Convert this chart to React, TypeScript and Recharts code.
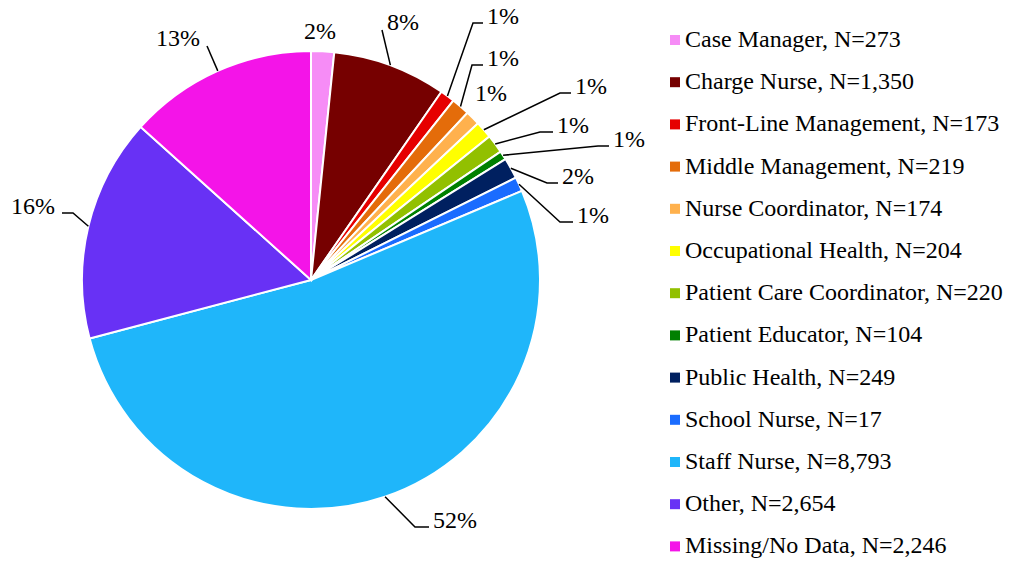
import React from 'react';
import { PieChart, Pie, Cell, Legend } from 'recharts';

const categories = [
  'Case Manager',
  'Charge Nurse',
  'Front-Line Management',
  'Middle Management',
  'Nurse Coordinator',
  'Occupational Health',
  'Patient Care Coordinator',
  'Patient Educator',
  'Public Health',
  'School Nurse',
  'Staff Nurse',
  'Other',
  'Missing/No Data',
];

// N shown in the legend
const counts = [273, 1350, 173, 219, 174, 204, 220, 104, 249, 17, 8793, 2654, 2246];

// slice sizes
const sliceValues = [273, 1350, 173, 219, 174, 204, 220, 104, 249, 170, 8793, 2654, 2246];

// percentage labels as printed on the chart
const percentLabels = ['2%', '8%', '1%', '1%', '1%', '1%', '1%', '1%', '2%', '1%', '52%', '16%', '13%'];

const colors = [
  '#F68CF6',
  '#760000',
  '#E60000',
  '#E46C0A',
  '#FFB14D',
  '#FFFF00',
  '#92C000',
  '#008000',
  '#002060',
  '#1A6CFF',
  '#1FB6FA',
  '#6831F5',
  '#F414E8',
];

// label placement (layout only): text x / baseline y, anchor, leader elbow
type LabelPos = { x: number; y: number; anchor: 'start' | 'end'; elbow?: number; direct?: boolean };
const labelLayout: LabelPos[] = [
  { x: 304, y: 39, anchor: 'start' },
  { x: 387, y: 30, anchor: 'start', direct: true },
  { x: 487, y: 24, anchor: 'start', elbow: 473 },
  { x: 487, y: 66, anchor: 'start', elbow: 472 },
  { x: 475, y: 101, anchor: 'start' },
  { x: 575, y: 94, anchor: 'start', elbow: 560 },
  { x: 557, y: 133, anchor: 'start', elbow: 540 },
  { x: 613, y: 147, anchor: 'start', elbow: 598 },
  { x: 562, y: 184, anchor: 'start', elbow: 547 },
  { x: 577, y: 223, anchor: 'start', elbow: 560 },
  { x: 433, y: 528, anchor: 'start', elbow: 415 },
  { x: 55, y: 214, anchor: 'end', elbow: 73 },
  { x: 200, y: 46, anchor: 'end', direct: true },
];

const data = categories.map((name, i) => ({ name, value: sliceValues[i] }));

const FONT = 'Liberation Serif';
const textStyle: React.CSSProperties = { fontFamily: "'Liberation Serif'", fontSize: '24px' };
const W = 1009;
const H = 562;
const RAD = Math.PI / 180;

const renderLabel = (props: any) => {
  const { cx, cy, midAngle, outerRadius, index } = props;
  const lay = labelLayout[index];
  const ex = cx + outerRadius * Math.cos(-midAngle * RAD);
  const ey = cy + outerRadius * Math.sin(-midAngle * RAD);
  let points: string | null = null;
  const ly = lay.y - 1;
  if (lay.elbow !== undefined) {
    const endX = lay.anchor === 'start' ? lay.x - 4 : lay.x + 7;
    points = `${ex},${ey} ${lay.elbow},${ly} ${endX},${ly}`;
  } else if (lay.direct) {
    const endX = lay.anchor === 'start' ? lay.x - 5 : lay.x + 7;
    points = `${ex},${ey} ${endX},${lay.y}`;
  }
  return (
    <g key={`lbl-${index}`}>
      {points && <polyline points={points} fill="none" stroke="#000" strokeWidth={1.5} />}
      <text x={lay.x} y={lay.y} textAnchor={lay.anchor} fontFamily={FONT} fontSize={24} style={textStyle} fill="#000">
        {percentLabels[index]}
      </text>
    </g>
  );
};

const LEG_LEFT = 660;
const renderLegend = () => (
  <svg width={W - LEG_LEFT} height={H} style={{ display: 'block' }}>
    {categories.map((c, i) => {
      const base = 47 + i * 42.2;
      return (
        <g key={c}>
          <rect x={10} y={base - 12} width={10} height={10} fill={colors[i]} />
          <text x={25} y={base} fontFamily={FONT} fontSize={24} style={textStyle} fill="#000">
            {`${c}, N=${counts[i].toLocaleString('en-US')}`}
          </text>
        </g>
      );
    })}
  </svg>
);

export default function App() {
  return (
    <div
      style={{
        position: 'absolute',
        left: 0,
        top: 0,
        width: W,
        height: H,
        background: '#fff',
        fontFamily: "'Liberation Serif'",
      }}
    >
      <PieChart width={W} height={H} margin={{ top: 0, right: 0, bottom: 0, left: 0 }}>
        <Pie
          data={data}
          dataKey="value"
          nameKey="name"
          cx={311}
          cy={280}
          outerRadius={229}
          startAngle={90}
          endAngle={-270}
          stroke="#fff"
          strokeWidth={2}
          label={renderLabel}
          labelLine={false}
          isAnimationActive={false}
        >
          {data.map((d, i) => (
            <Cell key={d.name} fill={colors[i]} />
          ))}
        </Pie>
        <Legend
          layout="vertical"
          align="right"
          verticalAlign="top"
          content={renderLegend}
          wrapperStyle={{ left: LEG_LEFT, top: 0, width: W - LEG_LEFT, height: H }}
        />
      </PieChart>
    </div>
  );
}
